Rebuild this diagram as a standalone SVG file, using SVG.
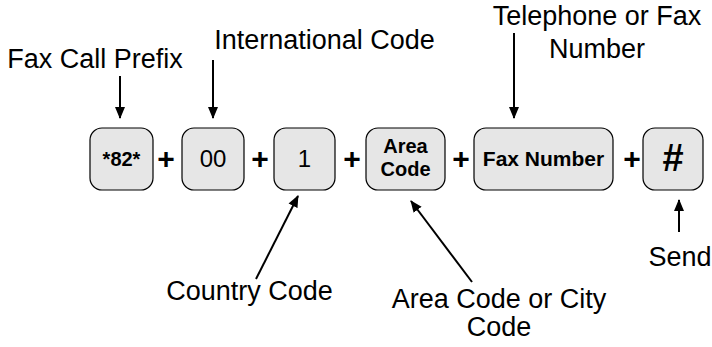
<svg xmlns="http://www.w3.org/2000/svg" width="712" height="347" viewBox="0 0 712 347">
<style>
.box{fill:#e6e6e6;stroke:#000;stroke-width:1.2}
.lbl{font-family:"Liberation Sans",Arial,sans-serif;font-size:27px;fill:#000;text-anchor:middle}
.bt{font-family:"Liberation Sans",Arial,sans-serif;font-size:24px;fill:#000;text-anchor:middle}
.bb{font-family:"Liberation Sans",Arial,sans-serif;font-size:20px;font-weight:bold;fill:#000;text-anchor:middle}
.plus{font-family:"Liberation Sans",Arial,sans-serif;font-size:30px;font-weight:bold;fill:#000;text-anchor:middle}
.arr{stroke:#000;stroke-width:2;fill:none;marker-end:url(#ah)}
</style>
<defs>
<marker id="ah" markerUnits="userSpaceOnUse" markerWidth="12" markerHeight="12" refX="11" refY="5" orient="auto" viewBox="0 0 12 10">
<path d="M0,0 L12,5 L0,10 Z" fill="#000"/>
</marker>
</defs>
<g id="n1"><rect class="box" x="90" y="128" width="63" height="62" rx="12"/><text class="bb" x="121.5" y="166">*82*</text></g>
<g id="n2"><rect class="box" x="182" y="128" width="62" height="62" rx="12"/><text class="bt" x="213" y="167">00</text></g>
<g id="n3"><rect class="box" x="274" y="128" width="61" height="62" rx="12"/><text class="bt" x="304.5" y="167">1</text></g>
<g id="n4"><rect class="box" x="366" y="128" width="79" height="62" rx="12"/><text class="bb" x="405.5" y="153">Area</text><text class="bb" x="405.5" y="176">Code</text></g>
<g id="n5"><rect class="box" x="474" y="128" width="139" height="62" rx="12"/><text class="bb" x="543.5" y="166" style="font-size:21px">Fax Number</text></g>
<g id="n6"><rect class="box" x="643" y="128" width="60" height="62" rx="12"/><text class="bb" x="673" y="171" style="font-size:38px">#</text></g>
<g id="plus">
<text class="plus" x="166" y="169">+</text>
<text class="plus" x="260" y="169">+</text>
<text class="plus" x="352" y="169">+</text>
<text class="plus" x="461" y="169">+</text>
<text class="plus" x="632" y="169">+</text>
</g>
<g id="l1"><text class="lbl" x="95" y="68">Fax Call Prefix</text></g>
<g id="l2"><text class="lbl" x="324.5" y="49">International Code</text></g>
<g id="l3"><text class="lbl" x="597" y="25">Telephone or Fax</text><text class="lbl" x="597" y="58">Number</text></g>
<g id="l4"><text class="lbl" x="249.5" y="300">Country Code</text></g>
<g id="l5"><text class="lbl" x="499" y="308">Area Code or City</text><text class="lbl" x="499" y="336">Code</text></g>
<g id="l6"><text class="lbl" x="680" y="266">Send</text></g>
<g id="connectors">
<line class="arr" x1="120" y1="76" x2="120" y2="118"/>
<line class="arr" x1="213" y1="60" x2="213" y2="118"/>
<line class="arr" x1="514" y1="33" x2="514" y2="118"/>
<line class="arr" x1="256" y1="279" x2="298" y2="196"/>
<line class="arr" x1="472" y1="282" x2="411" y2="201"/>
<line class="arr" x1="679" y1="232" x2="679" y2="200"/>
</g>
</svg>
